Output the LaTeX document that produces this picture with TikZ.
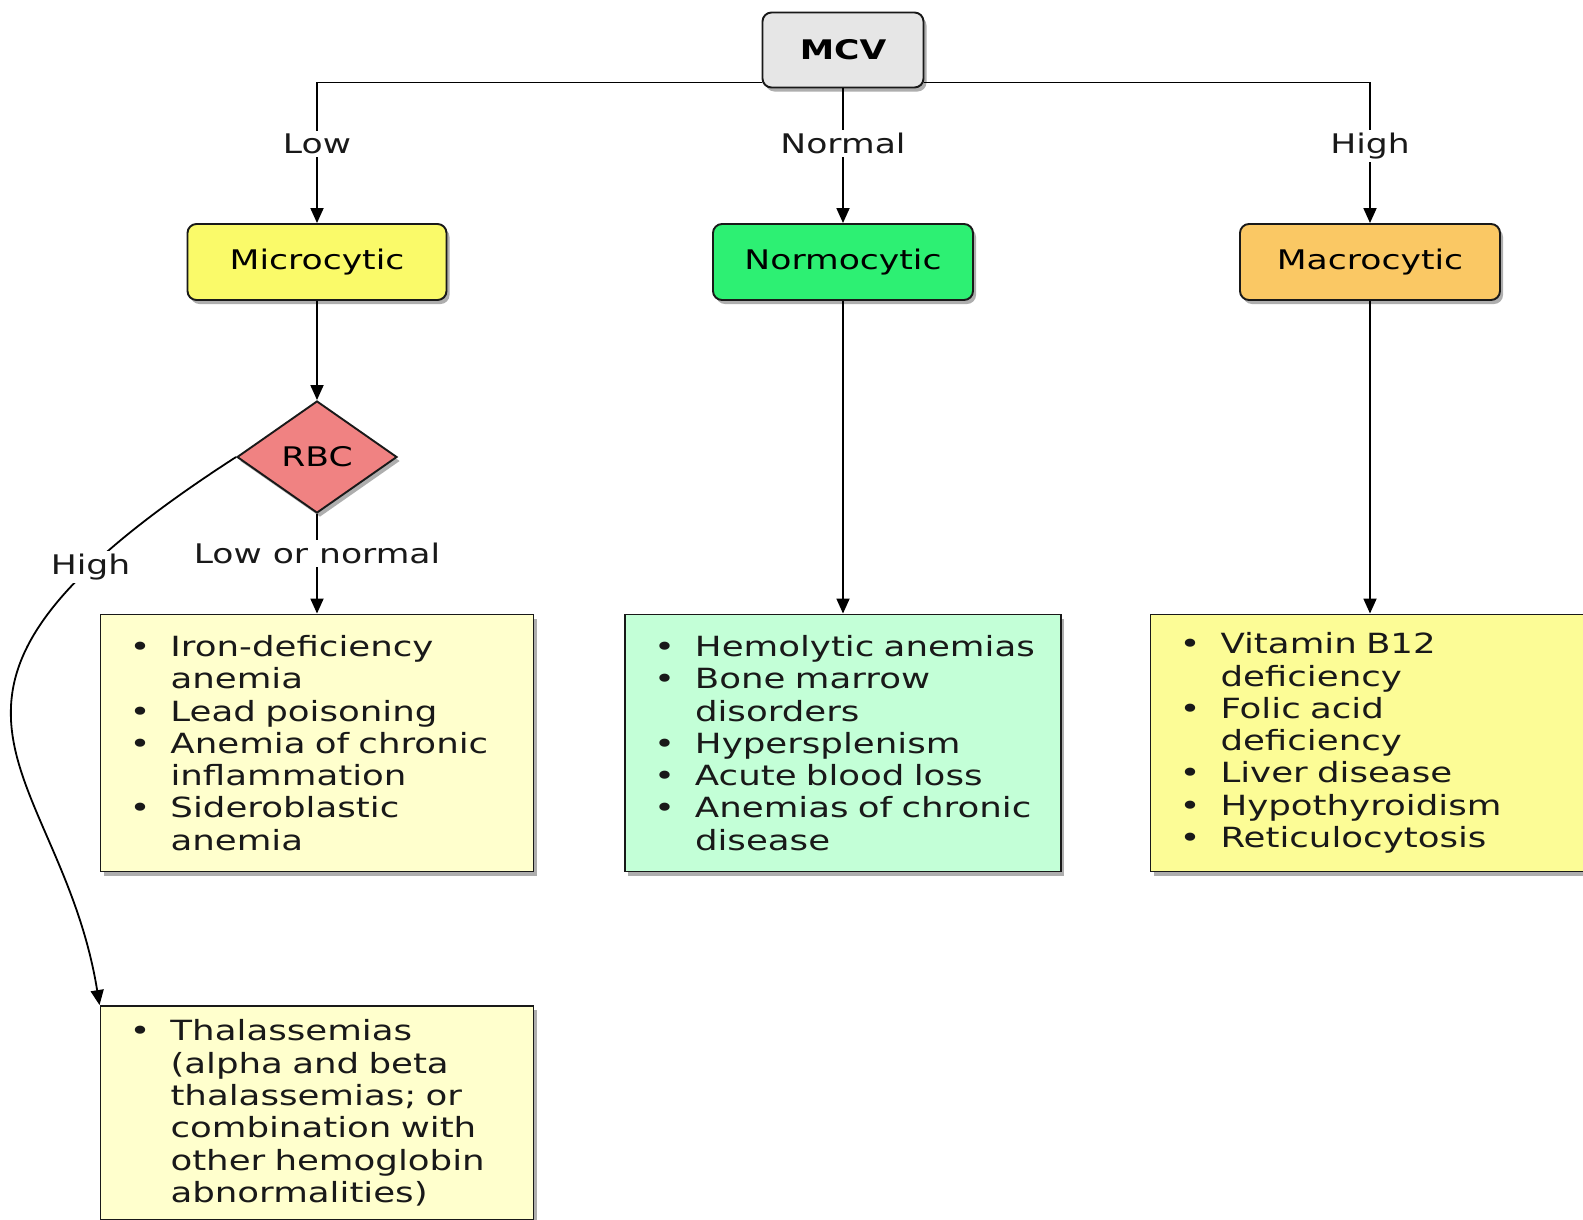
\documentclass[tikz,border=0pt]{standalone}
\usepackage{fontspec}
\setmainfont{DejaVu Sans}[FakeStretch=1.28]
\usetikzlibrary{shapes.geometric,arrows.meta,shadows}

\definecolor{sedaMCV}{RGB}{230,230,230}
\definecolor{zlutaMikro}{RGB}{250,250,105}
\definecolor{zelenaNormo}{RGB}{45,240,115}
\definecolor{oranzMakro}{RGB}{250,200,100}
\definecolor{ruzovaRBC}{RGB}{240,130,130}
\definecolor{svetleZluta}{RGB}{255,255,205}
\definecolor{svetleZelena}{RGB}{195,255,215}
\definecolor{zlutaMakro}{RGB}{252,252,150}

% odrazka a pokracovani radku
\newcommand\odr[1]{\makebox[41pt][l]{\textbullet}\mbox{#1}}
\newcommand\pokr[1]{\hspace*{41pt}\mbox{#1}}

\begin{document}
\begin{tikzpicture}[x=1pt,y=-1pt,
  font=\fontsize{27}{32.3}\selectfont,
  stin/.style={drop shadow={shadow xshift=3pt,shadow yshift=-4pt,opacity=0.45,fill=black!70}},
  uzel/.style={draw=black!90,line width=1.9pt,rounded corners=9pt,minimum height=76pt,inner sep=0pt,stin},
  seznam/.style={draw=black!90,line width=1.9pt,inner xsep=29pt,inner ysep=0pt,align=left,text=black!90,
                 font=\fontsize{27.8}{32.3}\selectfont,stin},
  sipka/.style={line width=1.8pt,-{Triangle[width=13pt,length=15pt]}},
  popis/.style={fill=white,inner sep=3pt,text=black!90}]

  \clip (0,0) rectangle (1583,1219);
  \fill[white] (0,0) rectangle (1583,1219);

  % --- HORNI UROVEN ---
  \node[uzel,fill=sedaMCV,minimum width=161pt,minimum height=75pt,font=\fontsize{27}{32}\selectfont\bfseries] (mcv) at (843,50) {MCV};

  \node[uzel,fill=zlutaMikro,minimum width=259pt] (mikro) at (317,262) {Microcytic};
  \node[uzel,fill=zelenaNormo,minimum width=260pt] (normo) at (843,262) {Normocytic};
  \node[uzel,fill=oranzMakro,minimum width=260pt] (makro) at (1370,262) {Macrocytic};

  % rozhodovani podle RBC
  \node[diamond,aspect=1.43,minimum width=160pt,minimum height=112pt,inner sep=0pt,
        draw=black!90,line width=1.9pt,fill=ruzovaRBC,stin] (rbc) at (317,457) {RBC};

  % --- SEZNAMY PRICIN ---
  \node[seznam,fill=svetleZluta,minimum width=433pt,minimum height=257pt,text width=375pt] (mikroSez) at (317,743)
    {\odr{Iron-deficiency}\\ \pokr{anemia}\\ \odr{Lead poisoning}\\ \odr{Anemia of chronic}\\
     \pokr{inflammation}\\ \odr{Sideroblastic}\\ \pokr{anemia}};

  \node[seznam,fill=svetleZelena,minimum width=436pt,minimum height=257pt,text width=378pt] (normoSez) at (843,743)
    {\odr{Hemolytic anemias}\\ \odr{Bone marrow}\\ \pokr{disorders}\\ \odr{Hypersplenism}\\
     \odr{Acute blood loss}\\ \odr{Anemias of chronic}\\ \pokr{disease}};

  \node[seznam,fill=zlutaMakro,minimum width=439pt,minimum height=257pt,text width=381pt] (makroSez) at (1370,743)
    {\odr{Vitamin B12}\\ \pokr{deficiency}\\ \odr{Folic acid}\\ \pokr{deficiency}\\
     \odr{Liver disease}\\ \odr{Hypothyroidism}\\ \odr{Reticulocytosis}};

  \node[seznam,fill=svetleZluta,minimum width=433pt,minimum height=214pt,text width=375pt] (thalSez) at (317,1113)
    {\odr{Thalassemias}\\ \pokr{(alpha and beta}\\ \pokr{thalassemias; or}\\ \pokr{combination with}\\
     \pokr{other hemoglobin}\\ \pokr{abnormalities)}};

  % --- SPOJNICE ---
  \draw[sipka] ([yshift=6pt]mcv.south west) -| node[popis,pos=0.72]{Low} (mikro);
  \draw[sipka] (mcv) -- node[popis,pos=0.41]{Normal} (normo);
  \draw[sipka] ([yshift=6pt]mcv.south east) -| node[popis,pos=0.725]{High} (makro);

  \draw[sipka] (mikro) -- (rbc);
  \draw[sipka] (rbc) -- node[popis,pos=0.4]{Low or normal} (mikroSez);
  \draw[sipka] (rbc.west) .. controls (-140,700) and (60,760) .. node[popis,pos=0.17]{High} (thalSez.north west);

  \draw[sipka] (normo) -- (normoSez);
  \draw[sipka] (makro) -- (makroSez);

\end{tikzpicture}
\end{document}
